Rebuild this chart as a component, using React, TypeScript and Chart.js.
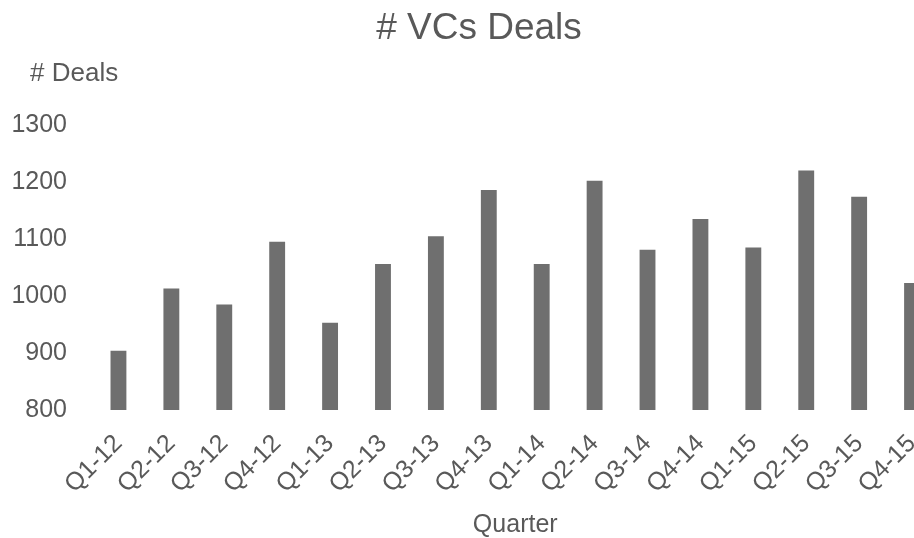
import React, { useEffect, useRef } from "react";
import { Chart, registerables } from "chart.js";

Chart.register(...registerables);

const quarters = [
  "Q1-12", "Q2-12", "Q3-12", "Q4-12",
  "Q1-13", "Q2-13", "Q3-13", "Q4-13",
  "Q1-14", "Q2-14", "Q3-14", "Q4-14",
  "Q1-15", "Q2-15", "Q3-15", "Q4-15",
];
const deals = [
  904, 1013, 985, 1095,
  953, 1056, 1105, 1186,
  1056, 1202, 1081, 1135,
  1085, 1220, 1174, 1023,
];
const yMin = 800;
const yMax = 1300;
const yStep = 100;
const chartTitle = "# VCs Deals";
const yTitle = "# Deals";
const xTitle = "Quarter";

const FONT = "'Liberation Sans', Arial, sans-serif";
const TEXT = "#595959";

const yTitlePlugin = {
  id: "yTitleTop",
  afterDraw(chart: any) {
    const ctx = chart.ctx;
    ctx.save();
    ctx.font = `26px ${FONT}`;
    ctx.fillStyle = TEXT;
    ctx.textAlign = "left";
    ctx.textBaseline = "alphabetic";
    ctx.fillText(yTitle, 30, 81);
    ctx.restore();
  },
};

export default function App() {
  const ref = useRef<HTMLCanvasElement | null>(null);

  useEffect(() => {
    if (!ref.current) return;
    const chart = new Chart(ref.current, {
      type: "bar",
      data: {
        labels: quarters,
        datasets: [
          {
            label: "# Deals",
            data: deals,
            backgroundColor: "#6f6f6f",
            borderWidth: 0,
            barPercentage: 0.3,
            categoryPercentage: 1,
            base: yMin,
          },
        ],
      },
      options: {
        animation: false,
        responsive: true,
        maintainAspectRatio: false,
        layout: { padding: 0 },
        plugins: {
          legend: { display: false },
          tooltip: { enabled: false },
          title: {
            display: true,
            text: chartTitle,
            color: TEXT,
            font: { family: FONT, size: 37, weight: "normal" },
            padding: { top: 7, bottom: 73.6 },
          },
        },
        scales: {
          x: {
            grid: { display: false, drawTicks: false },
            border: { display: false },
            ticks: {
              color: TEXT,
              font: { family: FONT, size: 25 },
              minRotation: 45,
              maxRotation: 45,
              autoSkip: false,
              padding: 19,
            },
            title: {
              display: true,
              text: xTitle,
              color: TEXT,
              font: { family: FONT, size: 25, lineHeight: 1.0 },
              padding: { top: 0, bottom: 0 },
            },
            afterFit(scale: any) {
              scale.height = 128;
            },
          },
          y: {
            min: yMin,
            max: yMax,
            grid: { display: false, drawTicks: false },
            border: { display: false },
            ticks: {
              stepSize: yStep,
              color: TEXT,
              font: { family: FONT, size: 25 },
              padding: 25,
              callback: (v: any) => String(v),
            },
            afterFit(scale: any) {
              scale.width = 92;
            },
          },
          yRight: {
            type: "linear",
            position: "right",
            display: true,
            grid: { display: false, drawTicks: false },
            border: { display: false },
            ticks: { display: false },
            afterFit(scale: any) {
              scale.width = 19.5;
            },
          },
        },
      },
      plugins: [yTitlePlugin],
    });
    return () => chart.destroy();
  }, []);

  return (
    <div
      style={{
        position: "fixed",
        left: 0,
        top: 0,
        width: 914,
        height: 538,
        overflow: "hidden",
        background: "#fff",
      }}
    >
      <div style={{ position: "absolute", left: 0, top: 0, width: 958, height: 538 }}>
        <canvas ref={ref} />
      </div>
    </div>
  );
}
